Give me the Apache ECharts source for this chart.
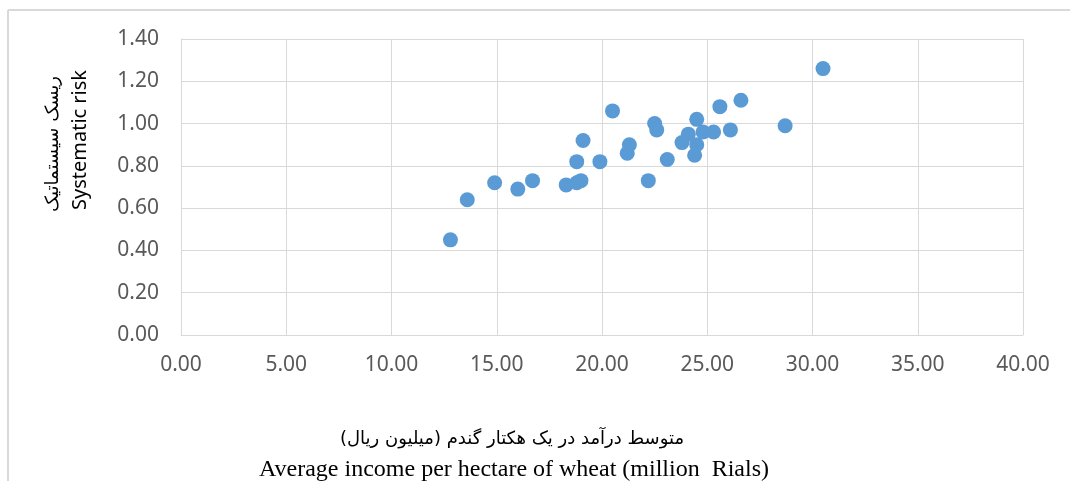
<!DOCTYPE html>
<html>
<head>
<meta charset="utf-8">
<script src="https://cdn.jsdelivr.net/npm/echarts@6/dist/echarts.min.js"></script>
<style>
html,body{margin:0;padding:0;background:#fff;}
#chart{width:1070px;height:481px;}
</style>
</head>
<body>
<div id="chart"></div>
<script>
// Average income per hectare of wheat (million Rials)
const income = [12.8, 13.6, 14.9, 16.0, 16.7, 18.3, 18.8, 19.0, 18.8, 19.1,
                19.9, 20.5, 21.2, 21.3, 22.2, 22.5, 22.6, 23.1, 23.8, 24.1,
                24.4, 24.5, 24.5, 24.8, 25.3, 25.6, 26.1, 26.6, 28.7, 30.5];
// Systematic risk
const risk = [0.45, 0.64, 0.72, 0.69, 0.73, 0.71, 0.72, 0.73, 0.82, 0.92,
              0.82, 1.06, 0.86, 0.90, 0.73, 1.00, 0.97, 0.83, 0.91, 0.95,
              0.85, 0.90, 1.02, 0.96, 0.96, 1.08, 0.97, 1.11, 0.99, 1.26];
const xTicks = [0, 5, 10, 15, 20, 25, 30, 35, 40];
const yTicks = [0, 0.2, 0.4, 0.6, 0.8, 1.0, 1.2, 1.4];

const yTitleFa = 'ریسک سیستماتیک';
const yTitleEn = 'Systematic risk';
const xTitleFa = 'متوسط درآمد در یک هکتار گندم (میلیون ریال)';
const xTitleEn = 'Average income per hectare of wheat (million  Rials)';

const points = income.map((x, i) => [x, risk[i]]);

const chart = echarts.init(document.getElementById('chart'), null, {renderer: 'canvas'});
const labelFont = {color: '#595959', fontSize: 21, fontFamily: 'Noto Sans'};
chart.setOption({
  animation: false,
  backgroundColor: '#ffffff',
  grid: {left: 181, right: 47, top: 39, bottom: 146, containLabel: false},
  xAxis: {
    type: 'value',
    min: xTicks[0], max: xTicks[xTicks.length - 1], interval: 5,
    axisLine: {show: true, lineStyle: {color: '#d9d9d9', width: 1}},
    axisTick: {show: false},
    splitLine: {show: true, lineStyle: {color: '#d9d9d9', width: 1}},
    axisLabel: Object.assign({margin: 20, formatter: v => v.toFixed(2)}, labelFont)
  },
  yAxis: {
    type: 'value',
    min: yTicks[0], max: yTicks[yTicks.length - 1], interval: 0.2,
    axisLine: {show: true, lineStyle: {color: '#d9d9d9', width: 1}},
    axisTick: {show: false},
    splitLine: {show: true, lineStyle: {color: '#d9d9d9', width: 1}},
    axisLabel: Object.assign({margin: 22, formatter: v => v.toFixed(2)}, labelFont)
  },
  series: [{
    type: 'scatter',
    data: points,
    symbol: 'circle',
    symbolSize: 15,
    itemStyle: {color: '#5b9bd5', opacity: 1}
  }],
  graphic: [
    {type: 'line', shape: {x1: 8, y1: 10, x2: 1070, y2: 10}, style: {stroke: '#d9d9d9', lineWidth: 2}, silent: true},
    {type: 'line', shape: {x1: 8, y1: 10, x2: 8, y2: 481}, style: {stroke: '#d9d9d9', lineWidth: 2}, silent: true},
    {type: 'text', x: 80, y: 140, rotation: Math.PI / 2,
      style: {text: yTitleEn, fill: '#000', fontSize: 20, fontFamily: 'Noto Sans', textAlign: 'center', textVerticalAlign: 'middle'}},
    {type: 'text', x: 53, y: 144, rotation: Math.PI / 2,
      style: {text: yTitleFa, fill: '#000', fontSize: 18, fontFamily: 'DejaVu Sans', textAlign: 'center', textVerticalAlign: 'middle'}},
    {type: 'text', x: 512, y: 439,
      style: {text: xTitleFa, fill: '#000', fontSize: 18, fontFamily: 'DejaVu Sans', textAlign: 'center', textVerticalAlign: 'middle'}},
    {type: 'text', x: 514, y: 470,
      style: {text: xTitleEn, fill: '#000', fontSize: 24, fontFamily: 'Liberation Serif', textAlign: 'center', textVerticalAlign: 'middle'}}
  ]
});
</script>
</body>
</html>
